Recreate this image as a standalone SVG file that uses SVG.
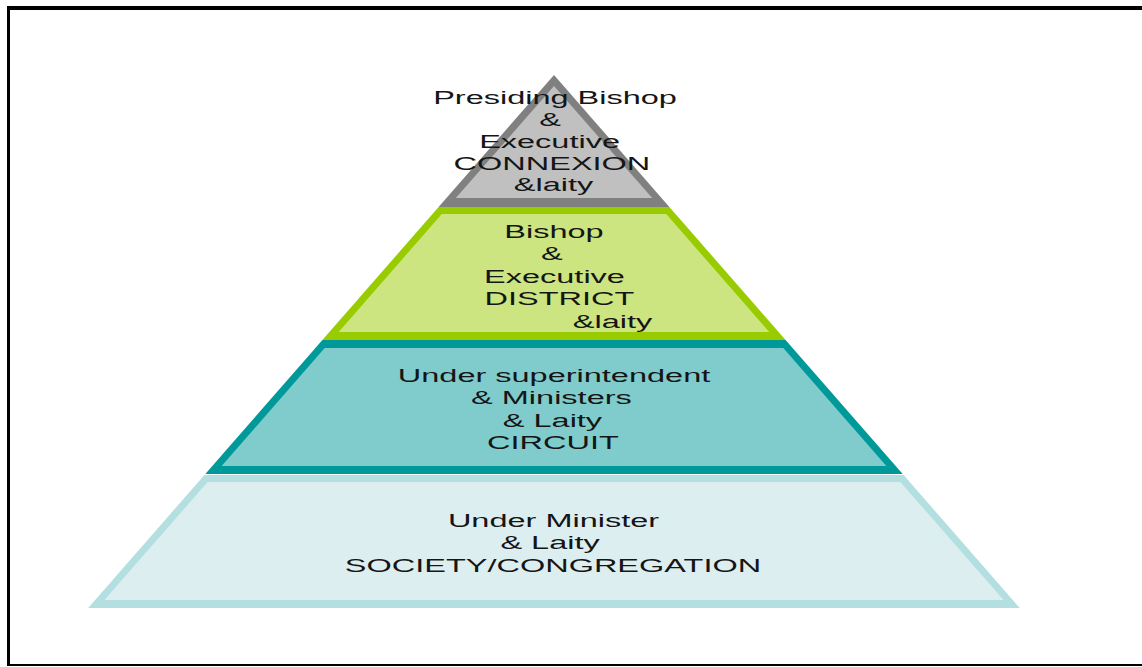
<svg xmlns="http://www.w3.org/2000/svg" width="1142" height="667" viewBox="0 0 1142 667">
  <style>
    .lbl { font-family: "Liberation Sans", Arial, sans-serif; font-size: 19px; fill: #151515; text-anchor: middle; }
    .frame { stroke: #000; fill: none; stroke-linecap: butt; }
  </style>
  <rect width="1142" height="667" fill="#ffffff"/>

  <!-- outer frame: top, left, bottom rules -->
  <g id="frame">
    <line class="frame" x1="7" y1="8" x2="1142" y2="8" stroke-width="4"/>
    <line class="frame" x1="8.5" y1="6" x2="8.5" y2="666" stroke-width="3"/>
    <line class="frame" x1="7" y1="665" x2="1142" y2="665" stroke-width="2"/>
  </g>

  <!-- apex: Connexion -->
  <g id="tier-connexion">
    <polygon points="554,75 669.4,207 438.6,207" fill="#808080"/>
    <polygon points="554,86 652.2,198 455.8,198" fill="#c0c0c0"/>
    <g transform="translate(554 0) scale(1.71 1)">
      <text class="lbl" x="0.6" y="104">Presiding Bishop</text>
      <text class="lbl" x="-2.3" y="126">&amp;</text>
      <text class="lbl" x="-2.6" y="148">Executive</text>
      <text class="lbl" x="-1.2" y="170">CONNEXION</text>
      <text class="lbl" x="-0.3" y="191">&amp;laity</text>
    </g>
  </g>

  <!-- District -->
  <g id="tier-district">
    <polygon points="438.6,207 669.4,207 785.6,340 322.4,340" fill="#99cc00"/>
    <polygon points="441.8,214 666.2,214 769.3,332 338.7,332" fill="#cce580"/>
    <g transform="translate(554 0) scale(1.71 1)">
      <text class="lbl" x="0" y="238">Bishop</text>
      <text class="lbl" x="-1.2" y="260">&amp;</text>
      <text class="lbl" x="0.3" y="283">Executive</text>
      <text class="lbl" x="3.2" y="305">DISTRICT</text>
      <text class="lbl" x="34.2" y="328">&amp;laity</text>
    </g>
  </g>

  <!-- Circuit -->
  <g id="tier-circuit">
    <polygon points="322.4,340 785.6,340 902.7,474 205.3,474" fill="#009999"/>
    <polygon points="324.7,348 783.3,348 886.4,466 221.6,466" fill="#80cccc"/>
    <g transform="translate(554 0) scale(1.71 1)">
      <text class="lbl" x="0" y="382">Under superintendent</text>
      <text class="lbl" x="-1.5" y="404">&amp; Ministers</text>
      <text class="lbl" x="-0.9" y="427">&amp; Laity</text>
      <text class="lbl" x="-0.6" y="449">CIRCUIT</text>
    </g>
  </g>

  <!-- Society / Congregation -->
  <g id="tier-society">
    <polygon points="204.4,475 903.6,475 1019.8,608 88.2,608" fill="#b3dfe0"/>
    <polygon points="207.6,482 900.4,482 1003.6,600 104.4,600" fill="#ddeef0"/>
    <g transform="translate(554 0) scale(1.71 1)">
      <text class="lbl" x="-0.3" y="527">Under Minister</text>
      <text class="lbl" x="-2.3" y="549">&amp; Laity</text>
      <text class="lbl" x="-0.6" y="572">SOCIETY/CONGREGATION</text>
    </g>
  </g>
</svg>
